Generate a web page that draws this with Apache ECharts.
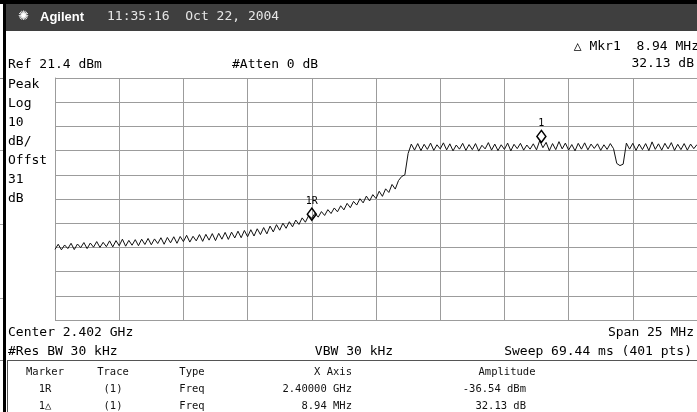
<!DOCTYPE html>
<html>
<head>
<meta charset="utf-8">
<script src="https://cdn.jsdelivr.net/npm/echarts@6/dist/echarts.min.js"></script>
<style>
  html, body { margin: 0; padding: 0; background: #fff; }
  #main { width: 697px; height: 412px; }
</style>
</head>
<body>
<div id="main"></div>
<script>
// sweep settings (MHz / dBm)
const startMHz = 2390;
const stopMHz = 2415;
const stepMHz = 0.125;
const refLevel = 21.4;
const bottomLevel = -78.6;

// trace amplitude in dBm, one value per sweep step
const traceDbm = [
  -49.4, -47.3, -49.6, -47.6, -49.1, -46.9, -49.5, -47.2, -48.7, -46.6,
  -49.1, -46.8, -48.5, -46.2, -48.6, -46.5, -48.3, -45.9, -48.4, -45.8,
  -47.9, -45.2, -48.1, -45.7, -47.7, -45.4, -47.9, -45.2, -47.4, -44.9,
  -47.5, -45.1, -47.0, -44.6, -47.3, -44.5, -46.7, -44.2, -46.9, -44.1,
  -46.2, -43.6, -46.4, -44.0, -45.9, -43.3, -46.1, -43.2, -45.6, -42.9,
  -45.8, -42.8, -45.2, -42.4, -45.3, -42.3, -44.7, -41.9, -44.6, -41.6,
  -44.2, -41.3, -43.9, -40.9, -43.3, -40.4, -43.0, -39.8, -42.2, -39.2,
  -41.5, -38.6, -40.7, -38.0, -40.1, -37.3, -39.1, -36.4, -38.2, -35.5,
  -36.54, -34.5, -36.1, -33.8, -35.4, -33.0, -34.6, -32.3, -33.9, -31.4,
  -33.1, -30.4, -32.2, -29.6, -31.1, -28.5, -30.2, -27.4, -29.4, -26.8,
  -28.4, -25.4, -27.5, -24.4, -25.9, -22.6, -24.5, -21.0, -19.3, -18.6,
  -9.8, -5.9, -8.4, -5.7, -8.6, -6.0, -8.1, -5.5, -8.5, -6.2,
  -7.9, -5.4, -8.3, -5.8, -8.7, -6.3, -8.0, -5.6, -8.5, -6.1,
  -8.2, -5.7, -8.8, -6.4, -7.9, -5.3, -8.4, -5.9, -8.6, -6.2,
  -8.1, -5.5, -8.7, -6.0, -7.8, -5.6, -8.4, -6.3, -8.0, -5.8,
  -8.3, -4.5, -7.4, -5.2, -8.6, -5.7, -8.2, -4.9, -7.9, -5.5,
  -8.4, -6.1, -8.7, -5.6, -8.0, -5.4, -8.3, -5.9, -7.7, -5.8,
  -8.5, -6.2, -8.1, -5.7, -7.8, -13.9, -14.8, -14.2, -5.5, -8.0,
  -5.6, -8.5, -5.9, -8.2, -5.7, -8.6, -5.0, -8.1, -5.8, -8.4,
  -5.6, -7.9, -5.3, -8.5, -6.0, -8.2, -5.7, -8.4, -5.9, -7.8,
  -6.1
];

// markers: [label, freq MHz, amplitude dBm]
const markers = [
  ["1R", 2400.0, -36.54],
  ["1", 2408.94, -4.41]
];

// annotation texts
const headerTime = "11:35:16  Oct 22, 2004";
const sideLabels = ["Peak", "Log", "10", "dB/", "Offst", "31", "dB"];
const tableHead = ["Marker", "Trace", "Type", "X Axis", "Amplitude"];
const tableRows = [
  ["1R", "(1)", "Freq", "2.40000 GHz", "-36.54 dBm"],
  ["1\u25B3", "(1)", "Freq", "8.94 MHz", "32.13 dB"]
];

const mono = '"DejaVu Sans Mono", monospace';

// y is plotted relative to the reference level so the grid starts at a round number
const traceData = traceDbm.map((v, i) => [startMHz + i * stepMHz, v - refLevel]);

function txt(str, x, y, opt) {
  opt = opt || {};
  return {
    type: "text",
    x: x,
    y: y,
    silent: true,
    style: {
      text: str,
      font: (opt.weight || "normal") + " " + (opt.size || 13) + "px " + (opt.family || mono),
      fill: opt.color || "#000",
      textAlign: opt.align || "left",
      textVerticalAlign: "middle"
    }
  };
}

function hline(x1, x2, y, color) {
  return { type: "line", silent: true, shape: { x1: x1, y1: y, x2: x2, y2: y }, style: { stroke: color, lineWidth: 1 } };
}

const graphics = [
  // title bar
  { type: "rect", silent: true, shape: { x: 0, y: 0, width: 697, height: 4 }, style: { fill: "#000" } },
  { type: "rect", silent: true, shape: { x: 6, y: 4, width: 691, height: 27 }, style: { fill: "#3f3f3f" } },
  { type: "rect", silent: true, shape: { x: 3, y: 0, width: 3, height: 412 }, style: { fill: "#000" } },
  txt("\u273A", 18, 17, { size: 13, color: "#fff", family: '"DejaVu Sans", sans-serif' }),
  txt("Agilent", 40, 17, { size: 13, weight: "bold", color: "#fff", family: '"Liberation Sans", Arial, sans-serif' }),
  txt(headerTime, 107, 17, { size: 13, color: "#e6e6e6" }),
  txt("\u25B3 Mkr1  8.94 MHz", 699, 47, { align: "right" }),
  txt("Ref 21.4 dBm", 8, 65),
  txt("#Atten 0 dB", 232, 65),
  txt("32.13 dB", 694, 64, { align: "right" }),
  txt("Center 2.402 GHz", 8, 333),
  txt("Span 25 MHz", 694, 333, { align: "right" }),
  txt("#Res BW 30 kHz", 8, 352),
  txt("VBW 30 kHz", 354, 352, { align: "center" }),
  txt("Sweep 69.44 ms (401 pts)", 692, 352, { align: "right" }),
  // marker table box
  hline(7, 697, 360.5, "#555"),
  { type: "line", silent: true, shape: { x1: 7.5, y1: 360, x2: 7.5, y2: 412 }, style: { stroke: "#555", lineWidth: 1 } },
  // bits of the window behind
  hline(0, 3, 78.5, "#888"),
  hline(0, 3, 150.5, "#aaa"),
  hline(0, 3, 224.5, "#aaa"),
  hline(0, 3, 298.5, "#aaa"),
  hline(0, 3, 360.5, "#888")
];

sideLabels.forEach((s, i) => graphics.push(txt(s, 8, 85 + i * 19)));

// table columns: anchor x and alignment
const colX = [45, 113, 192, 352, 507];
const colAlign = ["center", "center", "center", "right", "center"];
const rowAlign = ["center", "center", "center", "right", "right"];
const rowX = [45, 113, 192, 352, 526];
tableHead.forEach((s, i) => graphics.push(txt(s, colX[i], 372, { size: 10.5, align: colAlign[i], color: "#111" })));
tableRows.forEach((row, r) => {
  row.forEach((s, i) => graphics.push(txt(s, rowX[i], 389 + r * 17, { size: 10.5, align: rowAlign[i], color: "#111" })));
});

const chart = echarts.init(document.getElementById("main"), null, { renderer: "canvas" });

chart.setOption({
  animation: false,
  backgroundColor: "#fff",
  grid: { left: 55, top: 78, width: 646, height: 242, containLabel: false },
  xAxis: {
    type: "value",
    min: startMHz,
    max: stopMHz,
    interval: 2.5,
    axisLine: { show: false },
    axisTick: { show: false },
    axisLabel: { show: false },
    splitLine: { show: true, lineStyle: { color: "#9c9c9c", width: 1 } }
  },
  yAxis: {
    type: "value",
    min: bottomLevel - refLevel,
    max: 0,
    interval: 10,
    axisLine: { show: true, lineStyle: { color: "#9c9c9c" } },
    axisTick: { show: false },
    axisLabel: { show: false },
    splitLine: { show: true, lineStyle: { color: "#9c9c9c", width: 1 } }
  },
  series: [
    {
      type: "line",
      data: traceData,
      showSymbol: false,
      smooth: false,
      lineStyle: { color: "#111", width: 1 },
      markPoint: {
        symbol: "diamond",
        symbolSize: [9, 12],
        symbolOffset: [0, -4],
        itemStyle: { color: "rgba(0,0,0,0)", borderColor: "#000", borderWidth: 1.5 },
        label: {
          show: true,
          position: "top",
          distance: 1,
          color: "#000",
          fontSize: 10,
          fontFamily: mono,
          formatter: (p) => p.name
        },
        data: markers.map((m) => ({ name: m[0], coord: [m[1], m[2] - refLevel] }))
      }
    }
  ],
  graphic: { elements: graphics }
});

window.addEventListener("resize", () => chart.resize());
</script>
</body>
</html>
